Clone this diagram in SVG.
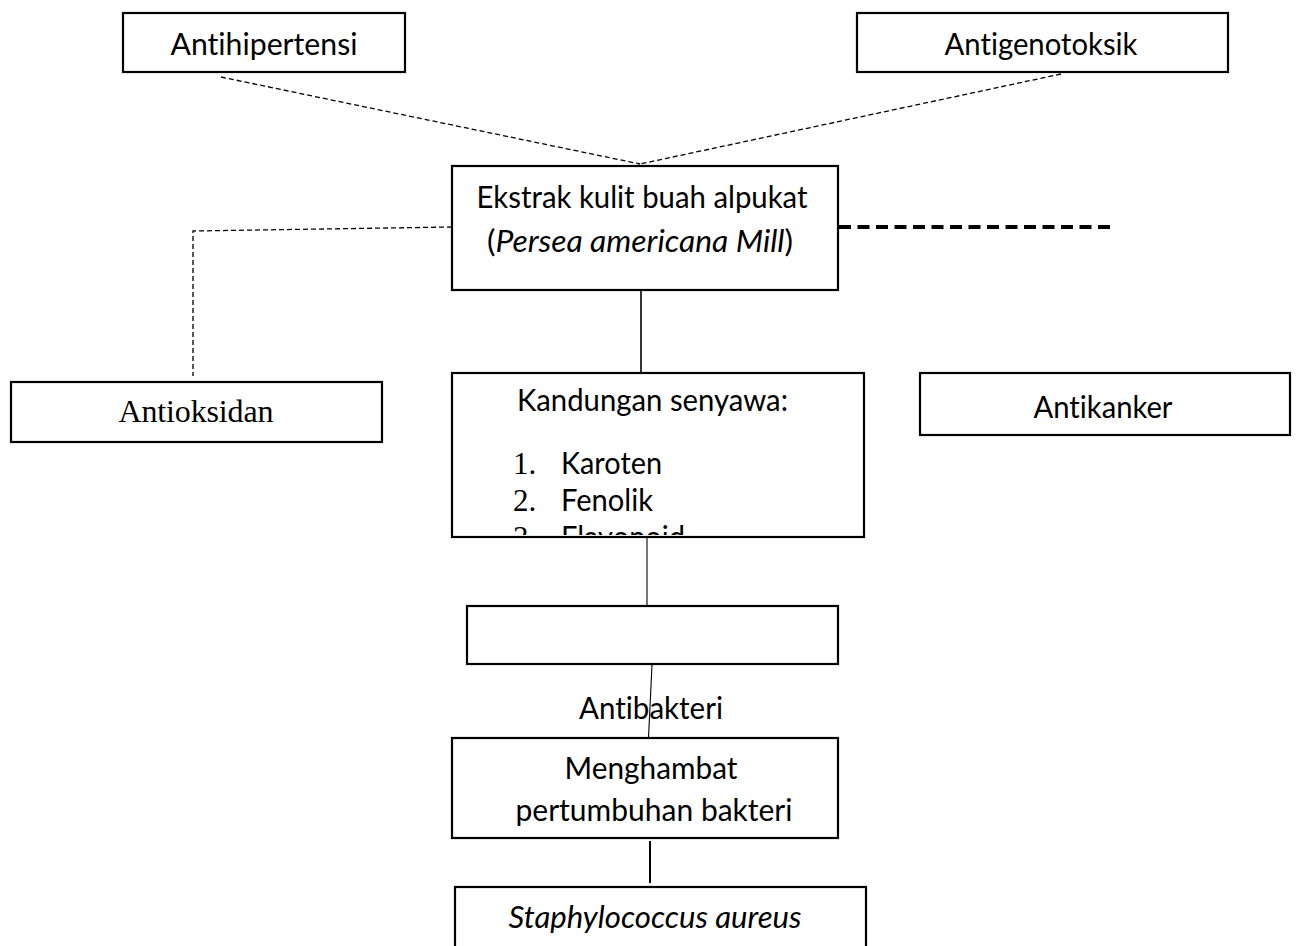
<svg xmlns="http://www.w3.org/2000/svg" width="1298" height="946" viewBox="0 0 1298 946">
<style>
.box{fill:#fff;stroke:#000;stroke-width:2.2}
.t{font-family:Lato,"Open Sans","Liberation Sans",sans-serif;font-size:31px;fill:#000;font-variant-ligatures:none}
.s{font-family:"Liberation Serif","Times New Roman",serif;fill:#000}
.dash{stroke:#000;stroke-width:1.3;fill:none;stroke-dasharray:5 3}
.solid{stroke:#000;fill:none}
</style>
<defs>
<clipPath id="clipK"><rect x="452" y="373" width="412" height="162"/></clipPath>
</defs>
<rect width="1298" height="946" fill="#fff"/>
<g id="connectors">
<path class="dash" d="M221 77 L640 164"/>
<path class="dash" d="M1061 74 L640 164"/>
<path class="dash" d="M452 227 L193 231 L193 376"/>
<path d="M839 227 L1110 227" stroke="#000" stroke-width="4" fill="none" stroke-dasharray="12 6.5"/>
<path class="solid" stroke-width="1.6" d="M641 290 L641 373"/>
<path class="solid" stroke-width="1.1" d="M647 537 L647 605"/>
<path class="solid" stroke-width="1.1" d="M652 665 L648.5 738"/>
<path class="solid" stroke-width="2" d="M650 841 L650 883"/>
</g>
<g id="antihipertensi">
<rect class="box" x="123" y="13" width="282" height="59"/>
<text class="t" x="264" y="55" text-anchor="middle" textLength="187" lengthAdjust="spacingAndGlyphs">Antihipertensi</text>
</g>
<g id="antigenotoksik">
<rect class="box" x="857" y="13" width="371" height="59"/>
<text class="t" x="1041" y="55" text-anchor="middle" textLength="193" lengthAdjust="spacingAndGlyphs">Antigenotoksik</text>
</g>
<g id="ekstrak">
<rect class="box" x="452" y="166" width="386" height="124"/>
<text class="t" x="642" y="208" text-anchor="middle" textLength="331" lengthAdjust="spacingAndGlyphs">Ekstrak kulit buah alpukat</text>
<text class="t" x="640" y="252" text-anchor="middle" textLength="306" lengthAdjust="spacingAndGlyphs">(<tspan font-style="italic">Persea americana Mill</tspan>)</text>
</g>
<g id="antioksidan">
<rect class="box" x="11" y="382" width="371" height="60"/>
<text class="s" x="196" y="422" font-size="32" text-anchor="middle" textLength="155">Antioksidan</text>
</g>
<g id="kandungan">
<rect class="box" x="452" y="373" width="412" height="164"/>
<text class="t" x="517" y="411" textLength="271" lengthAdjust="spacingAndGlyphs">Kandungan senyawa:</text>
<text class="s" x="513" y="474" font-size="31">1.</text>
<text class="t" x="561" y="474" textLength="101" lengthAdjust="spacingAndGlyphs">Karoten</text>
<text class="s" x="513" y="511" font-size="31">2.</text>
<text class="t" x="561" y="511" textLength="92" lengthAdjust="spacingAndGlyphs">Fenolik</text>
<g clip-path="url(#clipK)">
<text class="s" x="513" y="548" font-size="31">3.</text>
<text class="t" x="561" y="548" textLength="124" lengthAdjust="spacingAndGlyphs">Flavonoid</text>
</g>
</g>
<g id="antikanker">
<rect class="box" x="920" y="373" width="370" height="62"/>
<text class="t" x="1103" y="418" text-anchor="middle" textLength="139" lengthAdjust="spacingAndGlyphs">Antikanker</text>
</g>
<g id="empty-box">
<rect class="box" x="467" y="606" width="371" height="58"/>
</g>
<g id="antibakteri-label">
<text class="t" x="651" y="719" text-anchor="middle" textLength="144" lengthAdjust="spacingAndGlyphs">Antibakteri</text>
</g>
<g id="menghambat">
<rect class="box" x="452" y="738" width="386" height="100"/>
<text class="t" x="651" y="779" text-anchor="middle" textLength="173" lengthAdjust="spacingAndGlyphs">Menghambat</text>
<text class="t" x="654" y="821" text-anchor="middle" textLength="277" lengthAdjust="spacingAndGlyphs">pertumbuhan bakteri</text>
</g>
<g id="staphylococcus">
<rect class="box" x="455" y="887" width="411" height="80"/>
<text class="t" x="655" y="928" text-anchor="middle" font-style="italic" textLength="293" lengthAdjust="spacingAndGlyphs">Staphylococcus aureus</text>
</g>
</svg>
